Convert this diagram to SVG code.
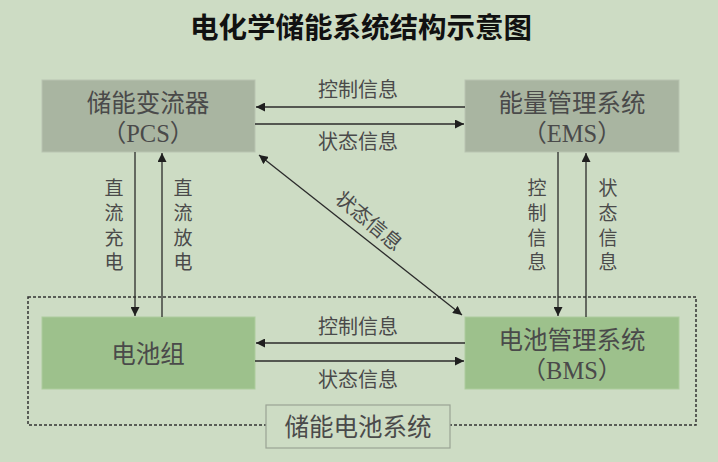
<svg xmlns="http://www.w3.org/2000/svg" width="718" height="462" viewBox="0 0 718 462">
<defs>
<style>
.t{font-family:"Liberation Serif","Noto Sans CJK SC",serif;fill:#4a4a4a;text-anchor:middle;dominant-baseline:central}
.bx{font-size:24.5px}
.lb{font-size:20px}
.vt{font-size:19px}
.gray{fill:#a9b5a1;stroke:#b9c4b1;stroke-width:1}
.green{fill:#9dc18c;stroke:#adcc9d;stroke-width:1}
.ln{stroke:#2b2b2b;stroke-width:1.3;fill:none}
</style>
<marker id="ah" viewBox="0 0 10 10" refX="10" refY="5" markerWidth="9" markerHeight="9" markerUnits="userSpaceOnUse" orient="auto-start-reverse">
<path d="M0,0 L10,5 L0,10 z" fill="#1f1f1f"/>
</marker>
</defs>
<rect width="718" height="462" fill="#cddcc4"/>
<text x="361" y="25" class="t" style="font-size:28.5px;font-weight:bold;fill:#111;font-family:'Noto Sans CJK SC',sans-serif">电化学储能系统结构示意图</text>

<g id="battery-system">
<rect x="28" y="297" width="668" height="128" fill="none" stroke="#333" stroke-width="1.5" stroke-dasharray="3,2"/>
<rect x="266" y="405" width="184" height="43" fill="#cddcc4" stroke="#9aa394" stroke-width="1.2"/>
<text x="358" y="427" class="t bx">储能电池系统</text>
</g>
<g id="pcs">
<rect x="42" y="80" width="213" height="72" class="gray"/>
<text x="148" y="103" class="t bx">储能变流器</text>
<text x="148" y="133" class="t bx">（PCS）</text>
</g>
<g id="ems">
<rect x="465" y="80" width="214" height="72" class="gray"/>
<text x="572" y="103" class="t bx">能量管理系统</text>
<text x="572" y="133" class="t bx">（EMS）</text>
</g>
<g id="battery">
<rect x="42" y="317" width="213" height="72" class="green"/>
<text x="148" y="354" class="t bx">电池组</text>
</g>
<g id="bms">
<rect x="465" y="317" width="214" height="72" class="green"/>
<text x="572" y="340" class="t bx">电池管理系统</text>
<text x="572" y="370" class="t bx">（BMS）</text>
</g>

<g id="connectors">
<line x1="465" y1="107" x2="256" y2="107" class="ln" marker-end="url(#ah)"/>
<line x1="255" y1="124" x2="464" y2="124" class="ln" marker-end="url(#ah)"/>
<line x1="465" y1="343" x2="256" y2="343" class="ln" marker-end="url(#ah)"/>
<line x1="255" y1="361" x2="464" y2="361" class="ln" marker-end="url(#ah)"/>
<line x1="135" y1="152" x2="135" y2="316" class="ln" marker-end="url(#ah)"/>
<line x1="162" y1="317" x2="162" y2="153" class="ln" marker-end="url(#ah)"/>
<line x1="558" y1="152" x2="558" y2="316" class="ln" marker-end="url(#ah)"/>
<line x1="586" y1="317" x2="586" y2="153" class="ln" marker-end="url(#ah)"/>
<line x1="259" y1="155" x2="462" y2="315" class="ln" marker-start="url(#ah)" marker-end="url(#ah)"/>
</g>

<g id="labels">
<text x="358" y="90" class="t lb">控制信息</text>
<text x="358" y="142" class="t lb">状态信息</text>
<text x="358" y="327" class="t lb">控制信息</text>
<text x="358" y="380" class="t lb">状态信息</text>
<text x="114" y="188" class="t vt">直</text>
<text x="114" y="213" class="t vt">流</text>
<text x="114" y="238" class="t vt">充</text>
<text x="114" y="262" class="t vt">电</text>
<text x="183" y="188" class="t vt">直</text>
<text x="183" y="213" class="t vt">流</text>
<text x="183" y="238" class="t vt">放</text>
<text x="183" y="262" class="t vt">电</text>
<text x="537" y="188" class="t vt">控</text>
<text x="537" y="213" class="t vt">制</text>
<text x="537" y="238" class="t vt">信</text>
<text x="537" y="262" class="t vt">息</text>
<text x="608" y="188" class="t vt">状</text>
<text x="608" y="213" class="t vt">态</text>
<text x="608" y="238" class="t vt">信</text>
<text x="608" y="262" class="t vt">息</text>
<text x="369" y="221" class="t lb" transform="rotate(40 369 221)">状态信息</text>
</g>
</svg>
